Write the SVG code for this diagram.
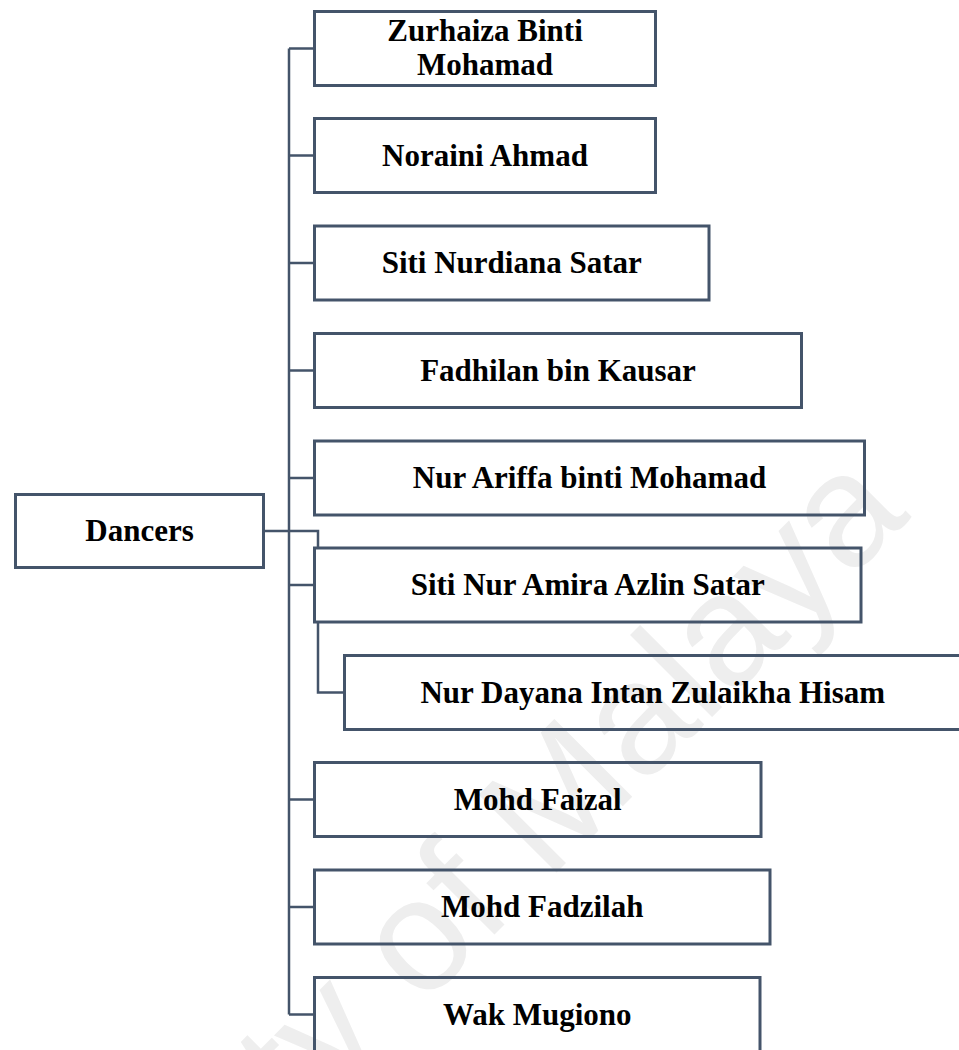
<svg xmlns="http://www.w3.org/2000/svg" width="959" height="1050" viewBox="0 0 959 1050">
<style>
.box{fill:none;stroke:#44546A;stroke-width:3}
.ln{fill:none;stroke:#44546A;stroke-width:2.5}
.t{font-family:"Liberation Serif","Times New Roman",serif;font-weight:bold;font-size:31px;fill:#000;text-anchor:middle}
.wm{font-family:"Liberation Sans",Arial,sans-serif;font-size:160px;fill:#eeeeee;text-anchor:end}
</style>
<rect width="959" height="1050" fill="#fff"/>
<g id="watermark"><text class="wm" transform="translate(912,517) rotate(-45)">University of Malaya</text></g>
<g id="connectors">
<path class="ln" d="M289 48.5V1014.5"/>
<path class="ln" d="M289 48.5H314.5M289 155.5H314.5M289 263H314.5M289 370.5H314.5M289 478H314.5M289 585H314.5M289 799.5H314.5M289 907H314.5M289 1014.5H314.5"/>
<path class="ln" d="M263.5 531H318V548"/>
<path class="ln" d="M318 622V692.5H344.5"/>
</g>
<g id="dancers"><rect class="box" x="15.5" y="494.5" width="248" height="73"/><text class="t" x="139.5" y="541">Dancers</text></g>
<g id="n1"><rect class="box" x="314.5" y="11.5" width="341" height="74"/><text class="t" x="485" y="41">Zurhaiza Binti</text><text class="t" x="485" y="74.5">Mohamad</text></g>
<g id="n2"><rect class="box" x="314.5" y="118.5" width="341" height="74"/><text class="t" x="485" y="165.5">Noraini Ahmad</text></g>
<g id="n3"><rect class="box" x="314.5" y="226" width="394.5" height="74"/><text class="t" x="511.75" y="273">Siti Nurdiana Satar</text></g>
<g id="n4"><rect class="box" x="314.5" y="333.5" width="487" height="74"/><text class="t" x="558" y="380.5">Fadhilan bin Kausar</text></g>
<g id="n5"><rect class="box" x="314.5" y="441" width="550" height="74"/><text class="t" x="589.5" y="488">Nur Ariffa binti Mohamad</text></g>
<g id="n6"><rect class="box" x="314.5" y="548" width="546.5" height="74"/><text class="t" x="587.75" y="595">Siti Nur Amira Azlin Satar</text></g>
<g id="n7"><rect class="box" x="344.5" y="655.5" width="616.5" height="74"/><text class="t" x="652.75" y="702.5">Nur Dayana Intan Zulaikha Hisam</text></g>
<g id="n8"><rect class="box" x="314.5" y="762.5" width="446.5" height="74"/><text class="t" x="537.75" y="809.5">Mohd Faizal</text></g>
<g id="n9"><rect class="box" x="314.5" y="870" width="455.5" height="74"/><text class="t" x="542.25" y="917">Mohd Fadzilah</text></g>
<g id="n10"><rect class="box" x="314.5" y="977.5" width="445.5" height="74"/><text class="t" x="537.25" y="1024.5">Wak Mugiono</text></g>
</svg>
